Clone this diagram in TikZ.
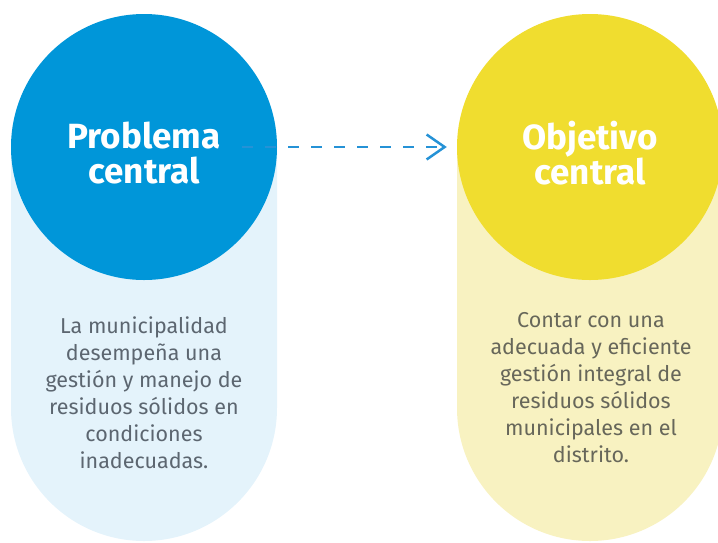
\documentclass[tikz,border=0pt]{standalone}
\usepackage{fontspec}
\setmainfont{Fira Sans}
\usetikzlibrary{arrows.meta,calc}
\definecolor{cblue}{HTML}{0096D9}
\definecolor{lblue}{HTML}{E4F3FB}
\definecolor{cyel}{HTML}{F0DD2F}
\definecolor{lyel}{HTML}{F8F2C1}
\definecolor{tgrayb}{HTML}{5C6670}
\definecolor{tgrayy}{HTML}{67675A}
\definecolor{arrblue}{HTML}{2592D6}
\begin{document}
\begin{tikzpicture}[x=1pt,y=-1pt,
  bigcircle/.style={circle,minimum size=266pt,inner sep=0pt,draw=none},
  titletext/.style={text=white,align=center,font=\bfseries\fontsize{35}{35}\selectfont},
  bodytext/.style={align=center,font=\fontsize{21.5}{27}\selectfont,inner sep=0pt,anchor=north},
  connector/.style={arrblue,line width=2.5pt,dash pattern=on 11pt off 12pt,
    -{Straight Barb[length=18pt,width=25pt,line width=2.5pt]}}]
\useasboundingbox (0,0) rectangle (718,542);
% pills
\fill[lblue] (11,147) -- (277,147) -- (277,408) arc[start angle=0,end angle=180,radius=133] -- cycle;
\fill[lyel] (457,147) -- (723,147) -- (723,408) arc[start angle=0,end angle=180,radius=133] -- cycle;
% circles
\node[bigcircle,fill=cblue] (pc) at (144,147) {};
\node[bigcircle,fill=cyel] (oc) at (590,147) {};
\node[titletext] (pt) at (144,153) {Problema\\central};
\node[titletext] (ot) at (590,153) {Objetivo\\central};
% body
\node[bodytext,text=tgrayb] (pb) at (144,317) {La municipalidad\\desempeña una\\gestión y manejo de\\residuos sólidos en\\condiciones\\inadecuadas.};
\node[bodytext,text=tgrayy] (ob) at (591,312) {Contar con una\\adecuada y eficiente\\gestión integral de\\residuos sólidos\\municipales en el\\distrito.};
% connector
\coordinate (cs) at ($(pc.center)+(98,0)$);
\coordinate (ce) at ($(oc.west)+(-10,0)$);
\draw[connector] (cs) -- (ce);
\end{tikzpicture}
\end{document}
